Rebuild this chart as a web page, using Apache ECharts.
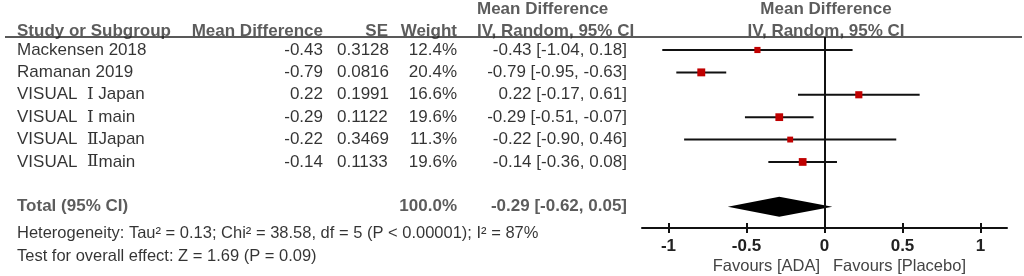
<!DOCTYPE html>
<html>
<head>
<meta charset="utf-8">
<script src="https://cdn.jsdelivr.net/npm/echarts@6/dist/echarts.min.js"></script>
<style>
  html, body { margin: 0; background: #fff; }
  #chart { width: 1024px; height: 276px; }
</style>
</head>
<body>
<div id="chart"></div>
<script>
// study rows
const studies = ['Mackensen 2018', 'Ramanan 2019', 'VISUAL  Ⅰ Japan', 'VISUAL  Ⅰ main', 'VISUAL  ⅡJapan', 'VISUAL  Ⅱmain'];
const meanDiff = [-0.43, -0.79, 0.22, -0.29, -0.22, -0.14];
const seValues = ['0.3128', '0.0816', '0.1991', '0.1122', '0.3469', '0.1133'];
const weights = [12.4, 20.4, 16.6, 19.6, 11.3, 19.6];
const ciLow = [-1.04, -0.95, -0.17, -0.51, -0.90, -0.36];
const ciHigh = [0.18, -0.63, 0.61, -0.07, 0.46, 0.08];

// pooled estimate
const totalMd = -0.29;
const totalLow = -0.62;
const totalHigh = 0.05;
const totalWeight = '100.0%';

const tickValues = [-1, -0.5, 0, 0.5, 1];
const heterogeneityText = 'Heterogeneity: Tau² = 0.13; Chi² = 38.58, df = 5 (P < 0.00001); I² = 87%';
const overallText = 'Test for overall effect: Z = 1.69 (P = 0.09)';

const FONT = 'Liberation Sans, Arial, sans-serif';
const TOTAL_ROW = 7;

const chart = echarts.init(document.getElementById('chart'));

// one column of text in the table grid
const textColumn = (items, x, side, style) => ({
  type: 'scatter',
  xAxisIndex: 0,
  yAxisIndex: 0,
  symbolSize: 0,
  silent: true,
  data: items.map((it) => ({ name: it.text, value: [x, it.row] })),
  label: Object.assign({
    show: true,
    position: side,
    distance: 0,
    formatter: '{b}',
    fontFamily: FONT,
    fontSize: 17,
    color: '#000'
  }, style)
});

const rows = studies.map((s, i) => i);
const fmt = (v) => v.toFixed(2);
const bold = { fontWeight: 'bold', color: '#333' };

const studyLabel = {
  show: true,
  position: 'right',
  distance: 0,
  fontFamily: FONT,
  fontSize: 17,
  color: '#000',
  formatter: (p) => p.name.replace(/(Ⅰ|Ⅱ)/g, '{r|$1}'),
  rich: { r: { fontFamily: 'DejaVu Serif', fontSize: 17, color: '#000' } }
};

const option = {
  animation: false,
  grid: [
    { left: 0, top: 0, width: 1024, height: 276 },
    { left: 642, top: 37, width: 365, height: 191 }
  ],
  xAxis: [
    { gridIndex: 0, type: 'value', min: 0, max: 1024, show: false },
    {
      gridIndex: 1, type: 'value', min: -1.17, max: 1.17,
      axisLine: { onZero: false, lineStyle: { color: '#111', width: 2 } },
      axisTick: { customValues: tickValues, length: 5, lineStyle: { color: '#111', width: 2 } },
      axisLabel: {
        customValues: tickValues, margin: 10,
        fontFamily: FONT, fontSize: 17, fontWeight: 'bold', color: '#222'
      },
      splitLine: { show: false }
    },
    {
      gridIndex: 1, type: 'value', min: -1.17, max: 1.17,
      position: 'bottom',
      axisLine: { show: false, onZero: false },
      axisTick: { customValues: tickValues, inside: true, length: 5, lineStyle: { color: '#111', width: 2 } },
      axisLabel: { show: false },
      splitLine: { show: false }
    }
  ],
  yAxis: [
    { gridIndex: 0, type: 'value', min: -2.23, max: 10.09, inverse: true, show: false },
    { gridIndex: 1, type: 'value', min: -0.58, max: 7.95, inverse: true, show: false }
  ],
  graphic: [
    {
      type: 'text', right: 1024 - 820, top: 258,
      style: { text: 'Favours [ADA]', fontFamily: FONT, fontSize: 16.5, fill: '#444' }
    },
    {
      type: 'text', left: 833, top: 258,
      style: { text: 'Favours [Placebo]', fontFamily: FONT, fontSize: 16.5, fill: '#444' }
    }
  ],
  series: [
    // header rule
    {
      type: 'line', xAxisIndex: 0, yAxisIndex: 0, data: [], silent: true,
      markLine: {
        symbol: 'none', silent: true, label: { show: false },
        lineStyle: { color: '#222', width: 1.5, type: 'solid' },
        data: [[{ coord: [5, -0.58] }, { coord: [1022, -0.58] }]]
      }
    },
    // headers
    textColumn([{ text: 'Study or Subgroup', row: -0.83 }], 17, 'right', bold),
    textColumn([{ text: 'Mean Difference', row: -0.83 }], 323, 'left', bold),
    textColumn([{ text: 'SE', row: -0.83 }], 388, 'left', bold),
    textColumn([{ text: 'Weight', row: -0.83 }], 457, 'left', bold),
    textColumn([{ text: 'Mean Difference', row: -1.83 }, { text: 'IV, Random, 95% CI', row: -0.83 }], 477, 'right', bold),
    textColumn([{ text: 'Mean Difference', row: -1.83 }, { text: 'IV, Random, 95% CI', row: -0.83 }], 826, 'inside', bold),
    // study rows
    {
      type: 'scatter', xAxisIndex: 0, yAxisIndex: 0, symbolSize: 0, silent: true,
      data: studies.map((s, i) => ({ name: s, value: [17, i] })),
      label: studyLabel
    },
    textColumn(rows.map((i) => ({ text: fmt(meanDiff[i]), row: i })), 323, 'left'),
    textColumn(rows.map((i) => ({ text: seValues[i], row: i })), 337, 'right'),
    textColumn(rows.map((i) => ({ text: weights[i].toFixed(1) + '%', row: i })), 457, 'left'),
    textColumn(rows.map((i) => ({
      text: fmt(meanDiff[i]) + ' [' + fmt(ciLow[i]) + ', ' + fmt(ciHigh[i]) + ']', row: i
    })), 627, 'left'),
    // total + footnotes
    textColumn([{ text: 'Total (95% CI)', row: TOTAL_ROW }], 17, 'right', bold),
    textColumn([{ text: totalWeight, row: TOTAL_ROW }], 457, 'left', bold),
    textColumn([{ text: fmt(totalMd) + ' [' + fmt(totalLow) + ', ' + fmt(totalHigh) + ']', row: TOTAL_ROW }], 627, 'left', bold),
    textColumn([{ text: heterogeneityText, row: 8.17 }, { text: overallText, row: 9.2 }], 17, 'right', { fontSize: 16.5 }),
    // study CIs and weighted squares
    {
      type: 'custom', xAxisIndex: 1, yAxisIndex: 1, silent: true,
      data: rows.map((i) => [meanDiff[i], i, ciLow[i], ciHigh[i], weights[i]]),
      encode: { x: 0, y: 1 },
      renderItem: (params, api) => {
        const mid = api.coord([api.value(0), api.value(1)]);
        const a = api.coord([api.value(2), api.value(1)]);
        const b = api.coord([api.value(3), api.value(1)]);
        const s = 1.75 * Math.sqrt(api.value(4));
        return {
          type: 'group',
          children: [
            { type: 'line', shape: { x1: a[0], y1: a[1], x2: b[0], y2: b[1] }, style: { stroke: '#111', lineWidth: 2 } },
            { type: 'rect', shape: { x: mid[0] - s / 2, y: mid[1] - s / 2, width: s, height: s }, style: { fill: '#c00000' } }
          ]
        };
      }
    },
    // pooled diamond
    {
      type: 'custom', xAxisIndex: 1, yAxisIndex: 1, silent: true,
      data: [[totalMd, TOTAL_ROW, totalLow, totalHigh]],
      encode: { x: 0, y: 1 },
      renderItem: (params, api) => {
        const m = api.coord([api.value(0), api.value(1)]);
        const l = api.coord([api.value(2), api.value(1)]);
        const h = api.coord([api.value(3), api.value(1)]);
        return {
          type: 'polygon',
          shape: { points: [[l[0], l[1]], [m[0], m[1] - 10], [h[0], h[1]], [m[0], m[1] + 10]] },
          style: { fill: '#000' }
        };
      }
    },
    // line of no effect
    {
      type: 'line', xAxisIndex: 1, yAxisIndex: 1, data: [], silent: true,
      markLine: {
        symbol: 'none', silent: true, label: { show: false },
        lineStyle: { color: '#111', width: 2, type: 'solid' },
        data: [{ xAxis: 0 }]
      }
    }
  ]
};

chart.setOption(option);
</script>
</body>
</html>
